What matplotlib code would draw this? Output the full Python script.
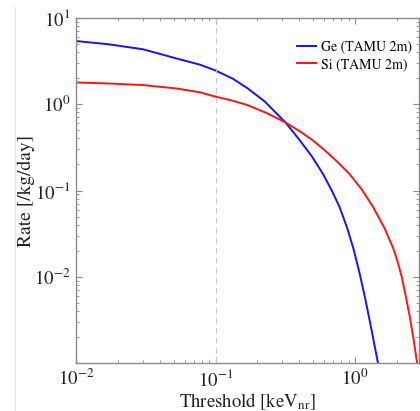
import matplotlib
matplotlib.use("Agg")
import matplotlib.pyplot as plt
from matplotlib.lines import Line2D
from matplotlib.ticker import LogLocator, NullFormatter

plt.rcParams['font.family'] = ['STIXGeneral', 'DejaVu Serif']
plt.rcParams['mathtext.fontset'] = 'stix'

# Data
ge_x = [0.01, 0.0172, 0.0302, 0.0520, 0.0773, 0.1, 0.133, 0.170, 0.225, 0.318,
        0.401, 0.489, 0.586, 0.680, 0.776, 0.885, 0.977, 1.079, 1.191, 1.315, 1.464]
ge_y = [5.37, 4.92, 4.31, 3.39, 2.86, 2.45, 1.97, 1.52, 1.075, 0.611,
        0.383, 0.250, 0.158, 0.1007, 0.0641, 0.0356, 0.0209, 0.0110, 0.00536, 0.00241, 0.00099]
si_x = [0.01, 0.0175, 0.0302, 0.0520, 0.0773, 0.1, 0.131, 0.170, 0.233, 0.318,
        0.401, 0.496, 0.605, 0.738, 0.914, 1.114, 1.337, 1.629, 1.89, 2.02,
        2.16, 2.30, 2.46, 2.63, 2.79]
si_y = [1.78, 1.73, 1.66, 1.52, 1.37, 1.22, 1.10, 0.973, 0.787, 0.611,
        0.486, 0.383, 0.293, 0.219, 0.155, 0.1035, 0.0658, 0.0366, 0.0209, 0.01507,
        0.01007, 0.00623, 0.00358, 0.00190, 0.00099]
labels = ["Ge (TAMU 2m)", "Si (TAMU 2m)"]
colors = ["#1414ff", "#ff1414"]
threshold_line = 0.1
xlim = (1e-2, 2.89)
ylim = (1e-3, 1e1)
yticks = [1e-2, 1e-1, 1e0, 1e1]
xticks = [1e-2, 1e-1, 1e0]

fig = plt.figure(figsize=(4.2, 4.11), dpi=100)
ax_w = (419.3 - 76) / 420
ax_h = (363.3 - 17.7) / 411
ax = fig.add_axes([76/420, 1 - 363.3/411, ax_w, ax_h])

ax.plot(ge_x, ge_y, color=colors[0], lw=1.4, label=labels[0])
ax.plot(si_x, si_y, color=colors[1], lw=1.4, label=labels[1])
ax.axvline(threshold_line, color="#c8c8c8", lw=0.8, ls=(0, (5, 4)))

ax.set_xscale('log')
ax.set_yscale('log')
ax.set_xlim(*xlim)
ax.set_ylim(*ylim)
ax.set_xticks(xticks)
ax.set_yticks(yticks)
ax.set_xticklabels([r"$10^{-2}$", r"$10^{-1}$", r"$10^{0}$"])
ax.set_yticklabels([r"$10^{-2}$", r"$10^{-1}$", r"$10^{0}$", r"$10^{1}$"])
ax.xaxis.set_minor_locator(LogLocator(base=10, subs=range(2, 10), numticks=20))
ax.yaxis.set_minor_locator(LogLocator(base=10, subs=range(2, 10), numticks=20))
ax.xaxis.set_minor_formatter(NullFormatter())
ax.yaxis.set_minor_formatter(NullFormatter())

for s in ax.spines.values():
    s.set_color("#8c8c8c")
    s.set_linewidth(1.0)
ax.tick_params(which='both', direction='in', top=True, right=True,
               color="#8c8c8c", labelsize=13.5, labelcolor="#222222")
ax.tick_params(which='major', length=4, width=0.8, pad=4)
ax.tick_params(which='minor', length=2.2, width=0.6)

ax.set_xlabel(r"Threshold [keV$_{\mathrm{nr}}$]", fontsize=13.5, color="#222222", labelpad=1)
ax.set_ylabel("Rate [/kg/day]", fontsize=14, color="#222222", labelpad=-1)

leg = ax.legend(loc='upper left',
                bbox_to_anchor=((297 - 76) / (419.3 - 76), 1 - (40 - 17.7) / (363.3 - 17.7)),
                frameon=False, borderpad=0, borderaxespad=0,
                fontsize=10, handlelength=1.37, handletextpad=0.36, labelspacing=0.31)

fig.add_artist(Line2D([15/420, 15/420], [1 - 410/411, 1 - 7/411],
                      transform=fig.transFigure, color="#e6e6e6", lw=0.8))

fig.savefig("out.png", dpi=100)
